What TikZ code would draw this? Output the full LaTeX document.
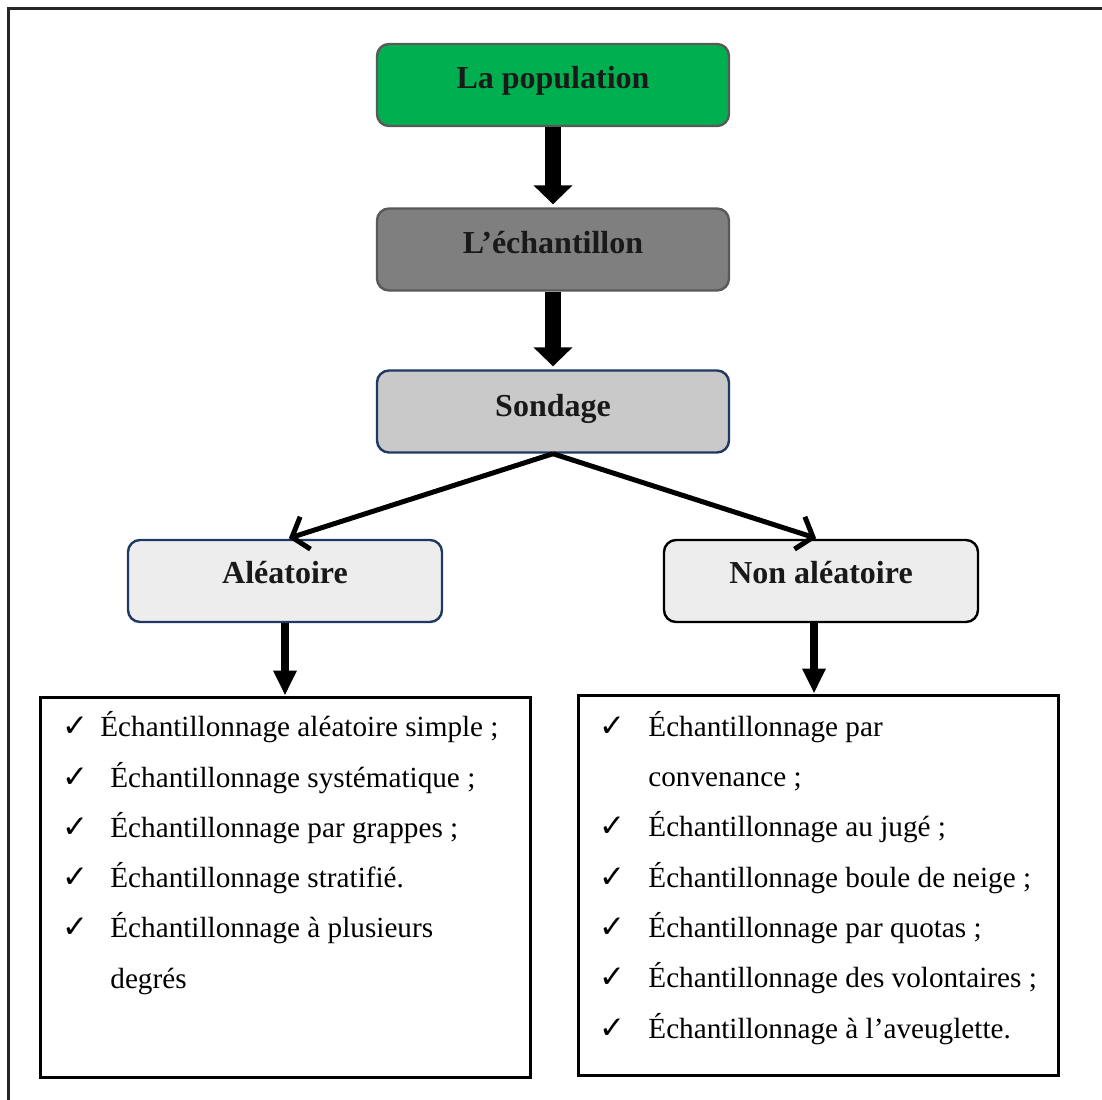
\documentclass[tikz,border=0pt]{standalone}
\usepackage{fontspec}
\setmainfont{Liberation Serif}
\newfontfamily\checkfont{DejaVu Sans}
\usetikzlibrary{arrows.meta}
\definecolor{popgreen}{HTML}{00B050}
\definecolor{echgray}{HTML}{7F7F7F}
\definecolor{sondgray}{HTML}{C9C9C9}
\definecolor{lightbox}{HTML}{EDEDED}
\definecolor{navy}{HTML}{1F3864}
\definecolor{edgegray}{HTML}{595959}
\begin{document}
\begin{tikzpicture}[x=0.5pt,y=-0.5pt,
  box/.style={rectangle, rounded corners=6pt, line width=1.2pt, inner sep=0pt,
              minimum width=176pt, minimum height=41pt},
  subbox/.style={rectangle, rounded corners=6pt, line width=1.2pt, inner sep=0pt,
              minimum width=157pt, minimum height=41pt, fill=lightbox},
  listbox/.style={rectangle, draw=black, line width=1.5pt, inner sep=0pt},
  title/.style={anchor=base, inner sep=0pt, font=\fontsize{16}{19}\selectfont\bfseries, text=black!90},
  item/.style={anchor=base west, inner sep=0pt, font=\fontsize{14.6}{17}\selectfont},
  tick/.style={anchor=base west, inner sep=0pt, font=\checkfont\fontsize{15.5}{17}\selectfont\bfseries},
  bigarrow/.style={line width=8pt, -{Triangle[width=19pt,length=9.5pt]}, shorten >=1.5pt},
  smallarrow/.style={line width=4pt, -{Triangle[width=11pt,length=12.5pt]}},
  branch/.style={line width=2.5pt, -{Straight Barb[length=7pt,width=17pt]}, shorten >=1pt}]
\useasboundingbox (0,0) rectangle (1102,1099);
\begin{scope}
  \clip (0,0) rectangle (1102,1099);
  % outer frame, open on the right and at the bottom
  \draw[line width=1.5pt, black!85] (8,1120) -- (8,8) -- (1120,8);
\end{scope}

% main chain
\node[box, fill=popgreen, draw=edgegray] (pop) at (553,85) {};
\node[box, fill=echgray, draw=edgegray] (ech) at (553,249.5) {};
\node[box, fill=sondgray, draw=navy] (sond) at (553,411.5) {};
\node[title] (popt) at (553,88) {La population};
\node[title] (echt) at (553,253) {L’échantillon};
\node[title] (sondt) at (553,416) {Sondage};

\draw[bigarrow] (pop.south) -- (ech.north);
\draw[bigarrow] (ech.south) -- (sond.north);

% two kinds of sampling
\node[subbox, draw=navy] (alea) at (285,581) {};
\node[subbox, draw=black] (nalea) at (821,581) {};
\node[title] (aleat) at (285,583) {Aléatoire};
\node[title] (naleat) at (821,583) {Non aléatoire};

\draw[branch] (sond.south) -- ([xshift=1pt]alea.north);
\draw[branch] (sond.south) -- ([xshift=-1.5pt]nalea.north);

% method lists
\node[listbox, minimum width=245pt, minimum height=190pt] (listL) at (285,887) {};
\node[listbox, minimum width=240pt, minimum height=190pt] (listR) at (818,885) {};

\draw[smallarrow] (alea.south) -- (listL.north);
\draw[smallarrow] ([xshift=-3.5pt]nalea.south) -- ([xshift=-3.5pt]nalea.south |- listR.north);

% left list
\foreach \y [count=\i] in {736,787,837,887,937}
  \node[tick] (lt\i) at (62,\y) {✓};
\node[item] (l1) at (100,736) {Échantillonnage aléatoire simple ;};
\node[item] (l2) at (110,787) {Échantillonnage systématique ;};
\node[item] (l3) at (110,837) {Échantillonnage par grappes ;};
\node[item] (l4) at (110,887) {Échantillonnage stratifié.};
\node[item] (l5) at (110,937) {Échantillonnage à plusieurs};
\node[item] (l6) at (110,988) {degrés};

% right list
\foreach \y [count=\i] in {736,836,887,937,987,1038}
  \node[tick] (rt\i) at (599,\y) {✓};
\node[item] (r1) at (648,736) {Échantillonnage par};
\node[item] (r2) at (648,786) {convenance ;};
\node[item] (r3) at (648,836) {Échantillonnage au jugé ;};
\node[item] (r4) at (648,887) {Échantillonnage boule de neige ;};
\node[item] (r5) at (648,937) {Échantillonnage par quotas ;};
\node[item] (r6) at (648,987) {Échantillonnage des volontaires ;};
\node[item] (r7) at (648,1038) {Échantillonnage à l’aveuglette.};
\end{tikzpicture}
\end{document}
